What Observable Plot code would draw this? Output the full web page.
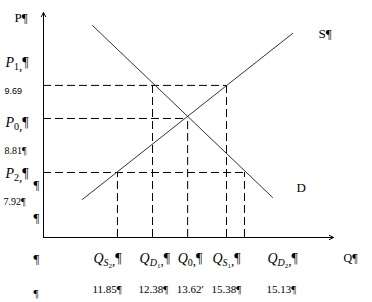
<!DOCTYPE html>
<html><head><meta charset="utf-8">
<script src="https://cdn.jsdelivr.net/npm/d3@7"></script>
<script src="https://cdn.jsdelivr.net/npm/@observablehq/plot@0.6"></script>
<style>html,body{margin:0;padding:0;background:#fff}#chart svg{display:block}</style>
</head><body><div id="chart"></div>
<script>
// ---- data (schematic chart units, 0–100 on each axis) ----
const qSub = ["S", "D", "0", "S", "D"];
const qSubSub = ["2", "1", "", "1", "2"];
const qLevel = [25.5, 37.6, 49.7, 63.1, 69.3];
const qMeetsP = [28.9, 67.6, 52.9, 67.6, 28.9];
const qValueLabels = ["11.85¶", "12.38¶", "13.62'", "15.38¶", "15.13¶"];

const pSub = ["1", "0", "2"];
const pLevel = [67.6, 52.9, 28.9];
const pReachQ = [63.1, 49.7, 69.3];
const pValueLabels = ["9.69", "8.81¶", "7.92¶"];

const supplyQ = [13.4, 85.9];
const supplyP = [16.9, 90.7];
const demandQ = [16.9, 79.0];
const demandP = [94.2, 17.8];

// ---- layout (pixel offsets for free-floating labels) ----
const qLabelDx = [-24, -13, -10, -14, 23];
const pLabelDy = [-23, 4, 1];
const pValueDy = [6, 32, 29];
const pValueDx = [-39, -39, -40];

const serif = "Liberation Serif";
const rich = [];
function label(x, y, dx, dy, parts, opts = {}) {
  const plain = parts.map(p => p.t).join("");
  if (parts.length > 1) rich.push({plain, parts});
  return Plot.text([0], {
    x: () => x, y: () => y, dx, dy, text: () => plain,
    textAnchor: "start", fontFamily: opts.font || serif,
    fontSize: opts.size || 14, fill: "#000"
  });
}

const supply = supplyQ.map((q, i) => ({q, p: supplyP[i]}));
const demand = demandQ.map((q, i) => ({q, p: demandP[i]}));
const hDash = pLevel.map((p, i) => ({x1: 0, x2: pReachQ[i], y: p}));
const vDash = qLevel.map((q, i) => ({x: q, y1: 0, y2: qMeetsP[i]}));

const marks = [
  Plot.ruleY(hDash, {x1: "x1", x2: "x2", y: "y", stroke: "#000", strokeWidth: 1, strokeDasharray: "8,4"}),
  Plot.ruleX(vDash, {x: "x", y1: "y1", y2: "y2", stroke: "#000", strokeWidth: 1, strokeDasharray: "8,4"}),
  Plot.line(supply, {x: "q", y: "p", stroke: "#333", strokeWidth: 1}),
  Plot.line(demand, {x: "q", y: "p", stroke: "#333", strokeWidth: 1}),
  Plot.arrow([0], {x1: 0, y1: 0, x2: 0, y2: 100, stroke: "#000", strokeWidth: 1, headLength: 7, headAngle: 55}),
  Plot.arrow([0], {x1: 0, y1: 0, x2: 100, y2: 0, stroke: "#000", strokeWidth: 1, headLength: 7, headAngle: 55}),
  // axis titles
  label(0, 100, -29, 5, [{t: "P"}, {t: "¶"}], {size: 13}),
  label(100, 0, 10, 21, [{t: "Q"}, {t: "¶"}], {size: 12}),
  label(supplyQ[1], supplyP[1], 26, 0, [{t: "S"}, {t: "¶"}], {size: 13}),
  label(demandQ[1], demandP[1], 24, -10, [{t: "D"}], {size: 13}),
];

pLevel.forEach((p, i) => {
  marks.push(label(0, p, -38, pLabelDy[i], [
    {t: "P", italic: true}, {t: pSub[i], size: 10, shift: 3}, {t: ",", size: 13, shift: 3}, {t: "¶", shift: 0}
  ]));
  marks.push(label(0, p, pValueDx[i], pValueDy[i], [{t: pValueLabels[i]}],
    i === 0 ? {font: "Liberation Sans", size: 9} : {size: 10}));
});

qLevel.forEach((q, i) => {
  const parts = [{t: "Q", italic: true}, {t: qSub[i], italic: qSub[i] !== "0", size: 10, shift: 3}];
  if (qSubSub[i]) parts.push({t: qSubSub[i], size: 7, shift: 5});
  parts.push({t: ",", size: 13, shift: 2}, {t: "¶", shift: 0});
  marks.push(label(q, 0, qLabelDx[i], 21, parts));
  marks.push(label(q, 0, qLabelDx[i] - 1, 52, [{t: qValueLabels[i]}], {size: 11}));
});

// stray paragraph marks in the left margin
[[42, 13], [75, 13], [116, 13], [151, 11]].forEach(([dyFromP, sz]) => {
  marks.push(label(0, 100, -10, dyFromP + 130, [{t: "¶"}], {size: sz}));
});

const svg = Plot.plot({
  width: 372, height: 302,
  marginLeft: 43, marginRight: 39, marginTop: 12, marginBottom: 65,
  x: {domain: [0, 100], axis: null},
  y: {domain: [0, 100], axis: null},
  style: {background: "#fff", overflow: "visible"},
  marks
});

// rebuild rich labels with italic letters and subscripts
d3.select(svg).selectAll("text").each(function () {
  const r = rich.find(o => o.plain === this.textContent);
  if (!r || r.parts.length < 2) return;
  const el = d3.select(this);
  el.text(null);
  let cur = 0;
  r.parts.forEach(p => {
    const s = p.shift || 0;
    const ts = el.append("tspan").text(p.t);
    if (p.italic) ts.attr("font-style", "italic");
    if (p.size) ts.attr("font-size", p.size);
    if (s !== cur) ts.attr("dy", s - cur);
    cur = s;
  });
});

document.getElementById("chart").appendChild(svg);
</script>
</body></html>
